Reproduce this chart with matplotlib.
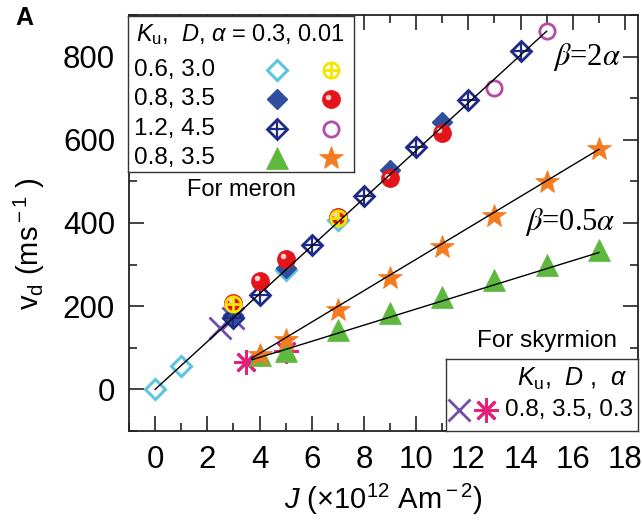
import matplotlib
matplotlib.use('Agg')
import matplotlib.pyplot as plt
from matplotlib.ticker import MultipleLocator
from matplotlib.transforms import offset_copy

plt.rcParams['font.family'] = ['Liberation Sans', 'DejaVu Sans']
plt.rcParams['mathtext.fontset'] = 'custom'
plt.rcParams['mathtext.rm'] = 'Liberation Sans'
plt.rcParams['mathtext.it'] = 'Liberation Sans:italic'
plt.rcParams['mathtext.bf'] = 'Liberation Sans:bold'

# meron, alpha = 0.3
cyan_x = [0, 1, 3, 5, 7]
cyan_y = [2, 56, 175, 288, 408]
blue_x = [3, 5, 9, 11]
blue_y = [180, 293, 528, 642]
navy_x = [3, 4, 6, 8, 10, 12, 14]
navy_y = [172, 228, 347, 464, 582, 696, 814]
# meron, alpha = 0.01
yellow_x = [3, 7]
yellow_y = [205, 413]
red_x = [3, 4, 5, 7, 9, 11]
red_y = [208, 260, 314, 415, 507, 616]
purple_x = [13, 15]
purple_y = [724, 861]
# beta = 0.5 alpha
green_x = [4, 5, 7, 9, 11, 13, 15, 17]
green_y = [83, 93, 143, 183, 221, 262, 299, 336]
orange_x = [4, 5, 7, 9, 11, 13, 15, 17]
orange_y = [83, 118, 191, 268, 342, 417, 498, 578]
# skyrmion
cross_x = [2.5, 3]
cross_y = [148, 172]
aster_x = [3.5, 5]
aster_y = [67, 92]
# fitted lines
fit2_x = [0, 15]
fit2_y = [0, 861]
fit_green_x = [3.7, 17]
fit_green_y = [71, 329]
fit_orange_x = [3.7, 17]
fit_orange_y = [75, 577]

rows = ['0.6, 3.0', '0.8, 3.5', '1.2, 4.5', '0.8, 3.5']
row_keys = [('cyan', 'yellow'), ('blue', 'red'), ('navy', 'purple'), ('green', 'orange')]

CYAN = '#5ec6dc'
BLUE = '#2f4f9e'
NAVY = '#1e2a88'
YELLOW = '#f4e600'
RED = '#e5141b'
PURPLE = '#b24ca6'
GREEN = '#5db83d'
ORANGE = '#f47b20'
XPURP = '#6e4fae'
MAGENTA = '#e8207c'

styles = {
    'cyan': [dict(marker='D', ms=10, mfc='none', mec=CYAN, mew=2.2)],
    'blue': [dict(marker='D', ms=10, mfc=BLUE, mec=BLUE, mew=1)],
    'navy': [dict(marker='D', ms=10, mfc='none', mec=NAVY, mew=2),
             dict(marker='+', ms=14, mfc='none', mec=NAVY, mew=1.6)],
    'yellow': [dict(marker='o', ms=11, mfc='none', mec=YELLOW, mew=2),
               dict(marker='+', ms=11, mfc='none', mec=YELLOW, mew=2)],
    'red': [dict(marker='o', ms=13, mfc=RED, mec=RED, mew=0.5)],
    'purple': [dict(marker='o', ms=11, mfc='none', mec=PURPLE, mew=2)],
    'green': [dict(marker='^', ms=16, mfc=GREEN, mec=GREEN, mew=0.5)],
    'orange': [dict(marker='*', ms=18, mfc=ORANGE, mec=ORANGE, mew=0.5)],
    'cross': [dict(marker='x', ms=16, mfc='none', mec=XPURP, mew=2)],
    'aster': [dict(marker=(8, 2, 0), ms=18, mfc='none', mec=MAGENTA, mew=2)],
}


def draw(axis, x, y, key, z):
    for st in styles[key]:
        axis.plot(x, y, ls='none', zorder=z, clip_on=False, **st)
    if key == 'red':
        tr = offset_copy(axis.transData, fig=axis.figure, x=-2, y=2, units='points')
        axis.plot(x, y, ls='none', marker='o', ms=4, mfc='#ffd0d0', mec='none',
                  transform=tr, zorder=z, clip_on=False)


fig = plt.figure(figsize=(6.42, 5.28), dpi=100)
ax = fig.add_axes([129 / 642, 1 - 431 / 528, 509 / 642, 416 / 528])

draw(ax, cross_x, cross_y, 'cross', 2)
draw(ax, aster_x, aster_y, 'aster', 2)
draw(ax, cyan_x, cyan_y, 'cyan', 3)
draw(ax, blue_x, blue_y, 'blue', 3)
draw(ax, navy_x, navy_y, 'navy', 3)
draw(ax, green_x, green_y, 'green', 3)
draw(ax, orange_x, orange_y, 'orange', 3)
draw(ax, red_x, red_y, 'red', 4)
draw(ax, yellow_x, yellow_y, 'yellow', 5)
draw(ax, purple_x, purple_y, 'purple', 5)

for fx, fy in [(fit2_x, fit2_y), (fit_green_x, fit_green_y), (fit_orange_x, fit_orange_y)]:
    ax.plot(fx, fy, color='black', lw=1, zorder=6)

ax.set_xlim(-1, 18.5)
ax.set_ylim(-100, 900)
ax.set_xticks(range(0, 19, 2))
ax.set_yticks(range(0, 801, 200))
ax.xaxis.set_minor_locator(MultipleLocator(1))
ax.yaxis.set_minor_locator(MultipleLocator(100))
ax.tick_params(which='both', direction='in', top=True, right=True, width=1.2,
               color='#222222', labelsize=22.5, pad=10)
ax.tick_params(which='major', length=10.5)
ax.tick_params(which='minor', length=6)
for s in ax.spines.values():
    s.set_linewidth(1.3)
    s.set_color('#222222')

ax.set_xlabel(r'$J$ (×10$^{\rm 12}$ Am$^{\rm -2}$)', fontsize=21, labelpad=5)
ax.set_ylabel(r'v$_{\rm d}$ (ms$^{\rm -1}$ )', fontsize=21, va='center')
ax.yaxis.set_label_coords(-0.196, 0.45)

ax.text(3.3, 480, 'For meron', fontsize=17, ha='center', va='center')
ax.text(15.0, 117, 'For skyrmion', fontsize=17.5, ha='center', va='center')
ax.text(17.85, 800, r'$\beta$=2$\alpha$', math_fontfamily='stix', fontsize=22,
        family='Liberation Serif', ha='right', va='center')
ax.text(17.65, 402, r'$\beta$=0.5$\alpha$', math_fontfamily='stix', fontsize=22,
        family='Liberation Serif', ha='right', va='center')

fig.text(24 / 642, 1 - 18 / 528, 'A', fontsize=18, fontweight='bold',
         ha='center', va='center')

# meron legend box
lax = fig.add_axes([128 / 642, 1 - 172 / 528, 226 / 642, 156 / 528], zorder=10)
lax.set_xlim(0, 226)
lax.set_ylim(156, 0)
lax.set_xticks([])
lax.set_yticks([])
for s in lax.spines.values():
    s.set_linewidth(1)
    s.set_color('#333333')
lax.text(8, 19, r'$K_{\rm u}$,  $D$, $\alpha$ = 0.3, 0.01', fontsize=17, va='center')
for i, (lab, (k1, k2)) in enumerate(zip(rows, row_keys)):
    yy = 54 + i * 29.5
    lax.text(6, yy, lab, fontsize=17.5, va='center')
    draw(lax, [149], [yy], k1, 3)
    draw(lax, [203], [yy], k2, 3)

# skyrmion legend box
sax = fig.add_axes([446 / 642, 1 - 431 / 528, 192 / 642, 72 / 528], zorder=10)
sax.set_xlim(0, 192)
sax.set_ylim(72, 0)
sax.set_xticks([])
sax.set_yticks([])
for s in sax.spines.values():
    s.set_linewidth(1)
    s.set_color('#333333')
sax.text(182, 20, r'$K_{\rm u}$,  $D$ ,  $\alpha$', fontsize=18, va='center', ha='right')
draw(sax, [13], [51], 'cross', 3)
draw(sax, [40], [51], 'aster', 3)
sax.text(59, 51, '0.8, 3.5, 0.3', fontsize=17.5, va='center')

fig.savefig('out.png', dpi=100)
